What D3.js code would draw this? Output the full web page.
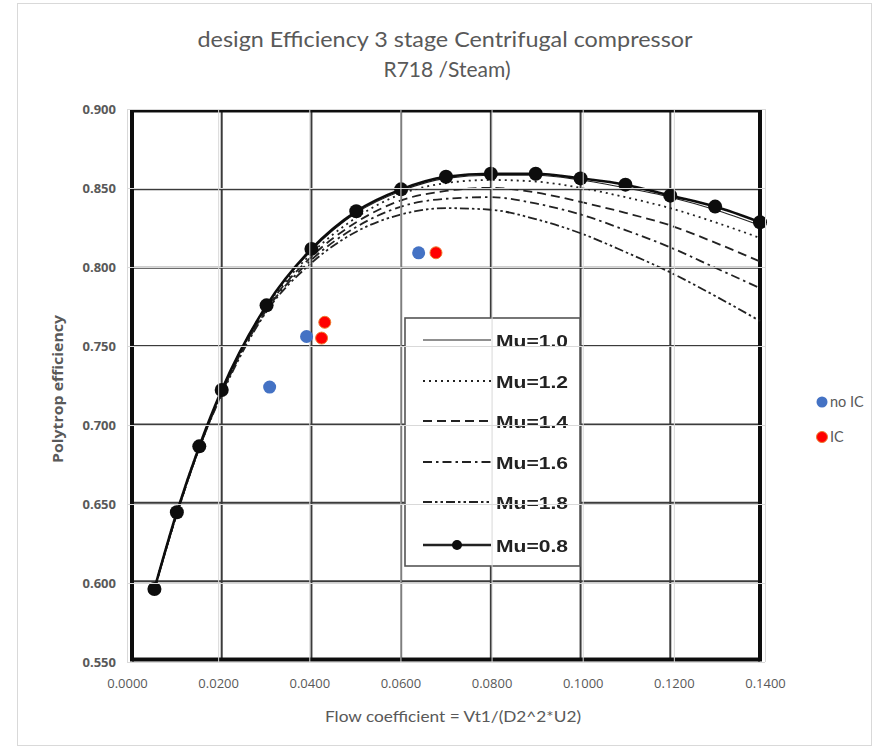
<!DOCTYPE html>
<html><head><meta charset="utf-8">
<script src="https://cdn.jsdelivr.net/npm/d3@7"></script>
<style>
body{margin:0;background:#fff;}
svg{display:block;}
</style></head>
<body>
<svg id="c" width="884" height="750"></svg>
<script>
// ---- data ----
const titleLines = ["design Efficiency 3 stage Centrifugal compressor", "R718 /Steam)"];
const xTicks = [0, 0.02, 0.04, 0.06, 0.08, 0.10, 0.12, 0.14];
const yTicks = [0.55, 0.60, 0.65, 0.70, 0.75, 0.80, 0.85, 0.90];
const flowX = [0.005,0.01,0.015,0.02,0.03,0.04,0.05,0.06,0.07,0.08,0.09,0.10,0.11,0.12,0.13,0.14];
const mu08 = [0.595,0.644,0.686,0.722,0.776,0.812,0.836,0.850,0.858,0.860,0.860,0.857,0.853,0.846,0.839,0.829];
const mu10 = [0.595,0.644,0.686,0.722,0.776,0.811,0.835,0.849,0.857,0.859,0.859,0.856,0.851,0.845,0.837,0.827];
const mu12 = [0.595,0.644,0.686,0.721,0.775,0.809,0.832,0.847,0.854,0.856,0.855,0.851,0.845,0.838,0.829,0.819];
const mu14 = [0.595,0.643,0.685,0.720,0.774,0.807,0.829,0.843,0.849,0.851,0.848,0.842,0.835,0.827,0.816,0.804];
const mu16 = [0.595,0.643,0.685,0.720,0.773,0.805,0.826,0.839,0.844,0.845,0.841,0.834,0.824,0.813,0.800,0.787];
const mu18 = [0.595,0.643,0.685,0.719,0.772,0.803,0.823,0.834,0.838,0.837,0.831,0.822,0.810,0.797,0.782,0.766];
const noIC_x = [0.0313, 0.0394, 0.0640];
const noIC_y = [0.724, 0.756, 0.809];
const IC_x = [0.0434, 0.0427, 0.0678];
const IC_y = [0.765, 0.755, 0.809];
const muLegend = ["Mu=1.0","Mu=1.2","Mu=1.4","Mu=1.6","Mu=1.8","Mu=0.8"];
const seriesLegend = ["no IC","IC"];

const svg = d3.select("#c");

// chart area border
svg.append("rect").attr("x",17.5).attr("y",3.5).attr("width",854).attr("height",742)
  .attr("fill","#fff").attr("stroke","#d9d9d9").attr("stroke-width",1);

// Excel plot scales
const x = d3.scaleLinear().domain([0,0.14]).range([127,765]);
const y = d3.scaleLinear().domain([0.55,0.90]).range([662,109]);
// scanned image scales (slightly offset)
const xs = d3.scaleLinear().domain([0,0.14]).range([132,760]);
const ys = d3.scaleLinear().domain([0.55,0.90]).range([659.5,111]);

const defs = svg.append("defs");
defs.append("filter").attr("id","blur").append("feGaussianBlur").attr("stdDeviation",0.45);

// ---- scanned picture layer ----
const scan = svg.append("g").attr("filter","url(#blur)");
scan.append("g").selectAll("line").data(xTicks.slice(1,-1)).join("line")
  .attr("x1",d=>xs(d)).attr("x2",d=>xs(d)).attr("y1",ys(0.9)).attr("y2",ys(0.55))
  .attr("stroke","#3a3a3a").attr("stroke-width",2);
scan.append("g").selectAll("line").data(yTicks.slice(1,-1)).join("line")
  .attr("x1",xs(0)).attr("x2",xs(0.14)).attr("y1",d=>ys(d)).attr("y2",d=>ys(d))
  .attr("stroke","#3a3a3a").attr("stroke-width",2);
scan.append("line").attr("x1",xs(0)).attr("x2",xs(0.14)).attr("y1",ys(0.9)).attr("y2",ys(0.9)).attr("stroke","#111").attr("stroke-width",3);
scan.append("line").attr("x1",xs(0)).attr("x2",xs(0.14)).attr("y1",ys(0.55)).attr("y2",ys(0.55)).attr("stroke","#111").attr("stroke-width",4);
scan.append("line").attr("x1",xs(0)).attr("x2",xs(0)).attr("y1",ys(0.9)-1.5).attr("y2",ys(0.55)+2).attr("stroke","#111").attr("stroke-width",4);
scan.append("line").attr("x1",xs(0.14)).attr("x2",xs(0.14)).attr("y1",ys(0.9)-1.5).attr("y2",ys(0.55)+2).attr("stroke","#111").attr("stroke-width",4);

const line = d3.line().x(d=>xs(d[0])).y(d=>ys(d[1])).curve(d3.curveMonotoneX);
const styles = [
  {vals:mu10, dash:null, w:1.1},
  {vals:mu12, dash:"2,4", w:1.8},
  {vals:mu14, dash:"9,5", w:1.8},
  {vals:mu16, dash:"9,4,2.5,4", w:1.8},
  {vals:mu18, dash:"9,3,2.5,3,2.5,3", w:1.8}
];
styles.forEach(s=>{
  scan.append("path").attr("d",line(flowX.map((v,i)=>[v,s.vals[i]])))
    .attr("fill","none").attr("stroke","#222").attr("stroke-width",s.w)
    .attr("stroke-dasharray",s.dash);
});
scan.append("path").attr("d",line(flowX.map((v,i)=>[v,mu08[i]])))
  .attr("fill","none").attr("stroke","#111").attr("stroke-width",2.6);
scan.append("g").selectAll("circle").data(flowX).join("circle")
  .attr("cx",d=>xs(d)).attr("cy",(d,i)=>ys(mu08[i])).attr("r",7).attr("fill","#0a0a0a");

// scanned legend box
const lb = {x0:405, x1:580, y0:318, y1:566};
scan.append("rect").attr("x",lb.x0).attr("y",lb.y0).attr("width",lb.x1-lb.x0).attr("height",lb.y1-lb.y0)
  .attr("fill","#fff").attr("stroke","#555").attr("stroke-width",1.6);
const rowY = [340, 381, 421, 462, 502, 545];
const legDash = [null,"2,4","9,5","9,4,2.5,4","9,3,2.5,3,2.5,3",null];
rowY.forEach((ry,i)=>{
  scan.append("line").attr("x1",423).attr("x2",491).attr("y1",ry).attr("y2",ry)
    .attr("stroke","#222").attr("stroke-width", i===5?2.6:(i===0?1.1:1.8))
    .attr("stroke-dasharray",legDash[i]);
  if(i===5) scan.append("circle").attr("cx",457).attr("cy",ry).attr("r",5).attr("fill","#0a0a0a");
  scan.append("text").attr("x",496).attr("y",ry+6.5).text(muLegend[i])
    .attr("font-family","Liberation Sans, Arial, sans-serif").attr("font-weight","bold")
    .attr("font-size",17).attr("fill","#222").attr("textLength",72).attr("lengthAdjust","spacingAndGlyphs");
});

// ---- Excel gridlines (over the picture) ----
const gx = svg.append("g").attr("transform",`translate(0,${y(0.55)})`)
  .call(d3.axisBottom(x).tickValues(xTicks).tickSize(-(y(0.55)-y(0.9))).tickFormat(""));
gx.select(".domain").remove();
gx.selectAll("line").attr("stroke","#d9d9d9").attr("stroke-width",1);
const gy = svg.append("g").attr("transform",`translate(${x(0)},0)`)
  .call(d3.axisLeft(y).tickValues(yTicks).tickSize(-(x(0.14)-x(0))).tickFormat(""));
gy.select(".domain").remove();
gy.selectAll("line").attr("stroke","#d9d9d9").attr("stroke-width",1);

// ---- axis labels ----
const ax = svg.append("g").attr("transform",`translate(0,${y(0.55)})`)
  .call(d3.axisBottom(x).tickValues(xTicks).tickSize(0).tickPadding(17).tickFormat(d3.format(".4f")));
ax.select(".domain").remove();
ax.selectAll("text").attr("font-family","Open Sans, sans-serif").attr("font-size",13).attr("fill","#595959");
const ay = svg.append("g").attr("transform",`translate(${x(0)},0)`)
  .call(d3.axisLeft(y).tickValues(yTicks).tickSize(0).tickPadding(11).tickFormat(d3.format(".3f")));
ay.select(".domain").remove();
ay.selectAll("text").attr("font-family","Open Sans, sans-serif").attr("font-weight","bold").attr("font-size",13).attr("fill","#595959");

// ---- scatter series ----
svg.append("g").selectAll("circle").data(noIC_x).join("circle")
  .attr("cx",d=>x(d)).attr("cy",(d,i)=>y(noIC_y[i])).attr("r",6.5).attr("fill","#4472C4");
svg.append("g").selectAll("circle").data(IC_x).join("circle")
  .attr("cx",d=>x(d)).attr("cy",(d,i)=>y(IC_y[i])).attr("r",6).attr("fill","#FF0000")
  .attr("stroke","#ED7D31").attr("stroke-width",1);

// ---- titles ----
const tt = svg.append("g");
tt.append("text").attr("x",445).attr("y",47).attr("text-anchor","middle")
  .attr("font-family","Lato, Open Sans, sans-serif").attr("font-size",21).attr("fill","#595959")
  .attr("textLength",495).attr("lengthAdjust","spacingAndGlyphs").text(titleLines[0]);
tt.append("text").attr("x",447).attr("y",77).attr("text-anchor","middle")
  .attr("font-family","Lato, Open Sans, sans-serif").attr("font-size",21).attr("fill","#595959")
  .text(titleLines[1]);
svg.append("text").attr("x",453).attr("y",722).attr("text-anchor","middle")
  .attr("font-family","Lato, Open Sans, sans-serif").attr("font-size",16).attr("fill","#595959")
  .attr("textLength",256).attr("lengthAdjust","spacingAndGlyphs")
  .text("Flow coefficient = Vt1/(D2^2*U2)");
svg.append("text").attr("transform","translate(63,389) rotate(-90)").attr("text-anchor","middle")
  .attr("font-family","Open Sans, sans-serif").attr("font-weight","bold").attr("font-size",15).attr("fill","#595959")
  .attr("textLength",148).attr("lengthAdjust","spacingAndGlyphs")
  .text("Polytrop efficiency");

// ---- right legend ----
const leg = svg.append("g");
const legColors = [["#4472C4","none"],["#FF0000","#ED7D31"]];
seriesLegend.forEach((t,i)=>{
  const ly = 402 + i*35;
  leg.append("circle").attr("cx",822).attr("cy",ly).attr("r",5.5).attr("fill",legColors[i][0]).attr("stroke",legColors[i][1]);
  leg.append("text").attr("x",830).attr("y",ly+5).text(t)
    .attr("font-family","Lato, Open Sans, sans-serif").attr("font-size",14.5).attr("fill","#595959");
});
</script>
</body></html>
